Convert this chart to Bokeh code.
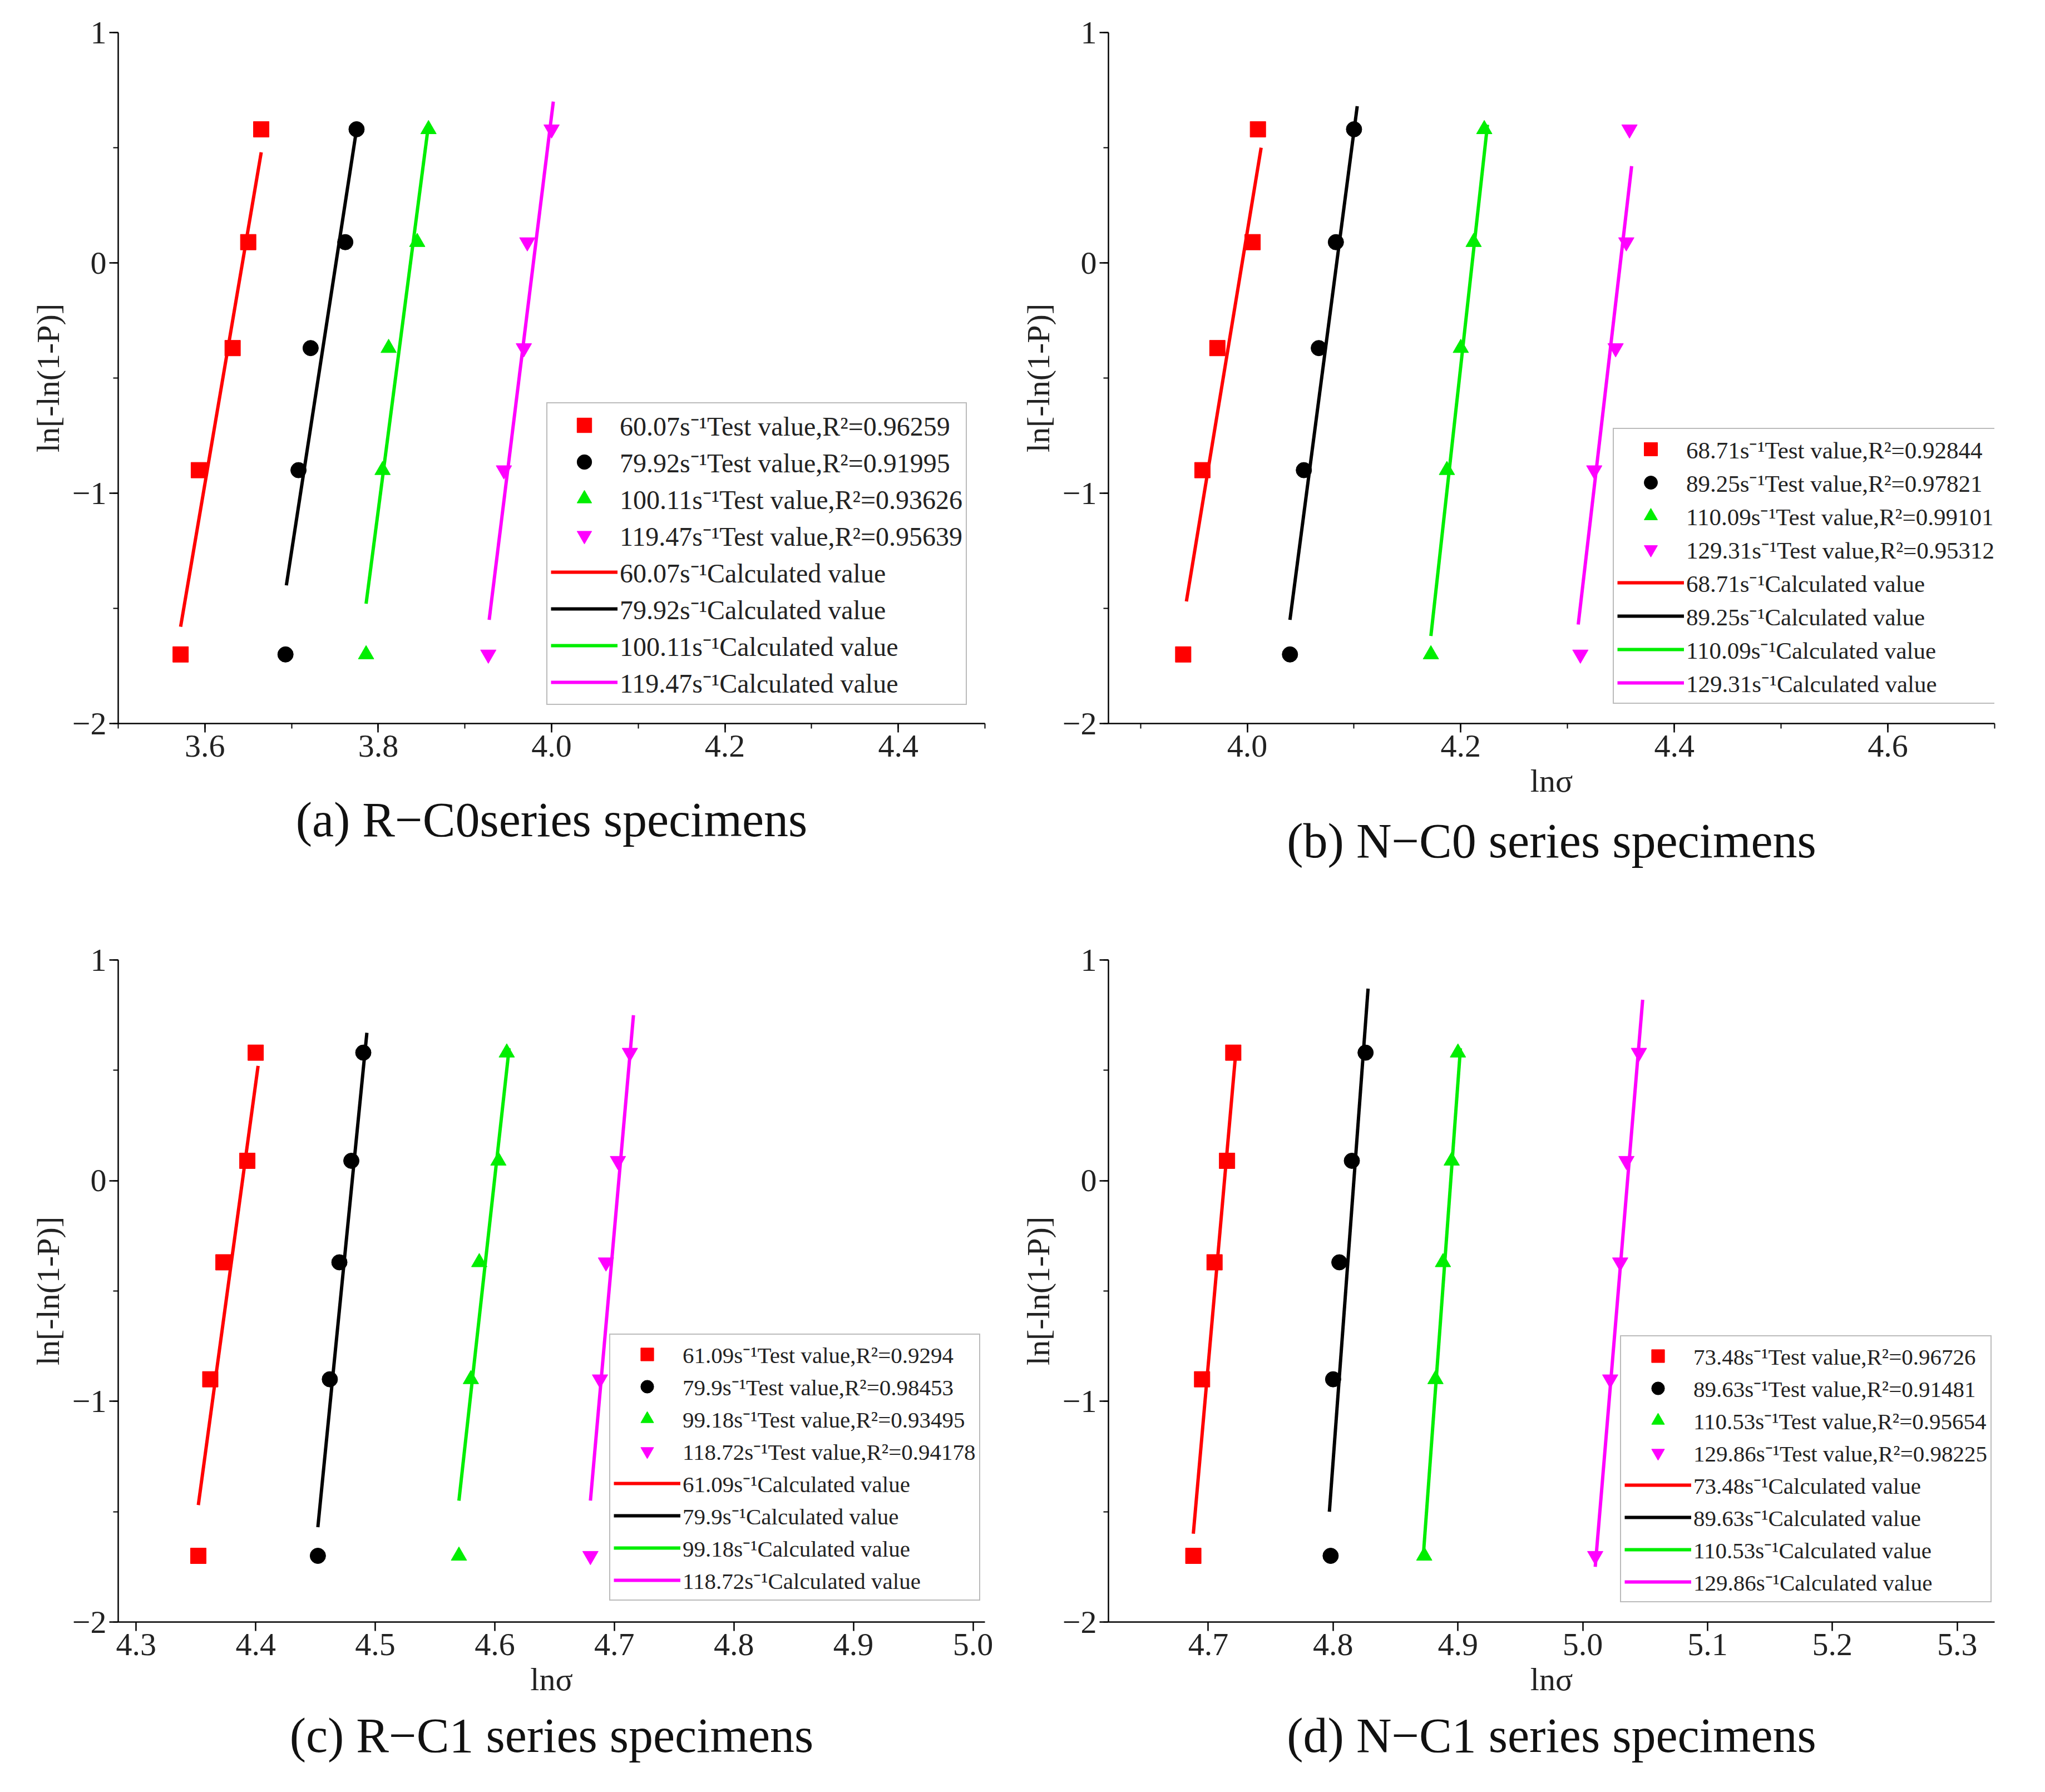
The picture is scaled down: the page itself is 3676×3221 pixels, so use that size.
from bokeh.plotting import figure
from bokeh.layouts import gridplot
from bokeh.models import Legend, LegendItem, SingleIntervalTicker, NumeralTickFormatter
from bokeh.embed import file_html
from bokeh.resources import INLINE

Y = [-1.70, -0.90, -0.37, 0.09, 0.58]
COLORS = ["#ff0000", "#000000", "#00ee00", "#ff00ff"]
MARKERS = ["square", "circle", "triangle", "inverted_triangle"]

# panel a
a_rates = ["60.07", "79.92", "100.11", "119.47"]
a_r2 = ["0.96259", "0.91995", "0.93626", "0.95639"]
a_x = [[3.572, 3.593, 3.632, 3.650, 3.665],
       [3.693, 3.708, 3.722, 3.762, 3.775],
       [3.786, 3.805, 3.812, 3.845, 3.858],
       [3.927, 3.945, 3.968, 3.972, 4.000]]
a_lx = [[3.572, 3.665], [3.694, 3.775], [3.786, 3.858], [3.928, 4.002]]
a_ly = [[-1.58, 0.48], [-1.40, 0.58], [-1.48, 0.60], [-1.55, 0.70]]

# panel b
b_rates = ["68.71", "89.25", "110.09", "129.31"]
b_r2 = ["0.92844", "0.97821", "0.99101", "0.95312"]
b_x = [[3.940, 3.958, 3.972, 4.005, 4.010],
       [4.040, 4.053, 4.067, 4.083, 4.100],
       [4.172, 4.187, 4.200, 4.212, 4.222],
       [4.312, 4.325, 4.345, 4.355, 4.358]]
b_lx = [[3.943, 4.013], [4.040, 4.103], [4.172, 4.225], [4.310, 4.360]]
b_ly = [[-1.47, 0.50], [-1.55, 0.68], [-1.62, 0.60], [-1.57, 0.42]]

# panel c
c_rates = ["61.09", "79.9", "99.18", "118.72"]
c_r2 = ["0.9294", "0.98453", "0.93495", "0.94178"]
c_x = [[4.352, 4.362, 4.373, 4.393, 4.400],
       [4.452, 4.462, 4.470, 4.480, 4.490],
       [4.570, 4.580, 4.587, 4.603, 4.610],
       [4.680, 4.688, 4.693, 4.703, 4.713]]
c_lx = [[4.352, 4.402], [4.452, 4.493], [4.570, 4.612], [4.680, 4.716]]
c_ly = [[-1.47, 0.52], [-1.57, 0.67], [-1.45, 0.60], [-1.45, 0.75]]

# panel d
d_rates = ["73.48", "89.63", "110.53", "129.86"]
d_r2 = ["0.96726", "0.91481", "0.95654", "0.98225"]
d_x = [[4.688, 4.695, 4.705, 4.715, 4.720],
       [4.798, 4.800, 4.805, 4.815, 4.826],
       [4.873, 4.882, 4.888, 4.895, 4.900],
       [5.010, 5.022, 5.030, 5.035, 5.045]]
d_lx = [[4.688, 4.722], [4.797, 4.828], [4.872, 4.902], [5.010, 5.048]]
d_ly = [[-1.60, 0.58], [-1.50, 0.87], [-1.72, 0.60], [-1.75, 0.82]]

FONT = "Liberation Serif"
Y_LABELS = {-2: "\u22122", -1: "\u22121", 0: "0", 1: "1"}


def panel(caption, xr, xticks, xminor, rates, r2, xs, lx, ly, xlabel, borders, leg_loc, leg_font, leg_h, standoff):
    bl, br, bt, bb = borders
    p = figure(width=1830, height=1600, x_range=xr, y_range=(-2, 1),
               output_backend="svg", toolbar_location=None,
               min_border_left=bl, min_border_right=br, min_border_top=bt, min_border_bottom=bb)
    p.outline_line_color = None
    p.grid.visible = False
    p.xaxis.ticker = SingleIntervalTicker(interval=xticks, num_minor_ticks=xminor)
    p.xaxis.formatter = NumeralTickFormatter(format="0.0")
    p.yaxis.ticker = SingleIntervalTicker(interval=1, num_minor_ticks=2)
    p.yaxis.major_label_overrides = Y_LABELS
    for ax in (p.xaxis[0], p.yaxis[0]):
        ax.major_label_text_font = FONT
        ax.major_label_text_font_size = "58px"
        ax.major_label_text_color = "#222222"
        ax.axis_label_text_font = FONT
        ax.axis_label_text_font_size = "58px"
        ax.axis_label_text_color = "#222222"
        ax.axis_label_text_font_style = "normal"
        ax.axis_label_standoff = 8
        ax.axis_line_width = 2.5
        ax.major_tick_line_width = 2.5
        ax.minor_tick_line_width = 2
        ax.major_tick_out = 16
        ax.minor_tick_out = 9
        ax.major_tick_in = 0
        ax.minor_tick_in = 0
    p.yaxis.axis_label = "ln[-ln(1-P)]"
    if xlabel:
        p.xaxis.axis_label = xlabel
    p.title.text = caption
    p.title_location = "below"
    p.title.align = "center"
    p.title.text_font = FONT
    p.title.text_font_size = "88px"
    p.title.text_font_style = "normal"
    p.title.text_color = "#111111"
    p.title.standoff = standoff

    pts, lines = [], []
    for i in range(4):
        r = p.scatter(xs[i], Y, marker=MARKERS[i], size=28, color=COLORS[i])
        pts.append(LegendItem(label=f"{rates[i]}s\u207b\u00b9Test value,R\u00b2={r2[i]}", renderers=[r]))
    for i in range(4):
        l = p.line(lx[i], ly[i], line_width=6, color=COLORS[i])
        lines.append(LegendItem(label=f"{rates[i]}s\u207b\u00b9Calculated value", renderers=[l]))
    leg = Legend(items=pts + lines, location=leg_loc,
                 label_text_font=FONT, label_text_font_size=leg_font, label_text_color="#222222",
                 label_height=leg_h, glyph_height=leg_h, glyph_width=120,
                 spacing=0, padding=6, margin=0, label_standoff=4,
                 border_line_color="#777777", border_line_width=2.5,
                 background_fill_alpha=1)
    p.add_layout(leg, "center")
    return p


pa = panel("(a) R\u2212C0series specimens", (3.5, 4.5), 0.2, 2, a_rates, a_r2, a_x, a_lx, a_ly, None,
           (212, 50, 58, 280), (770, 33), "48px", 66, 120)
pb = panel("(b) N\u2212C0 series specimens", (3.87, 4.70), 0.2, 2, b_rates, b_r2, b_x, b_lx, b_ly, "ln\u03c3",
           (160, 75, 47, 300), (907, 35), "43px", 60, 45)
pc = panel("(c) R\u2212C1 series specimens", (4.285, 5.01), 0.1, 0, c_rates, c_r2, c_x, c_lx, c_ly, "ln\u03c3",
           (212, 60, 87, 285), (883, 38), "41px", 58, 30)
pd = panel("(d) N\u2212C1 series specimens", (4.62, 5.33), 0.1, 0, d_rates, d_r2, d_x, d_lx, d_ly, "ln\u03c3",
           (150, 75, 125, 255), (920, 35), "41px", 58, 30)

grid = gridplot([[pa, pb], [pc, pd]], toolbar_location=None)
open("out.html", "w").write(file_html(grid, INLINE))
